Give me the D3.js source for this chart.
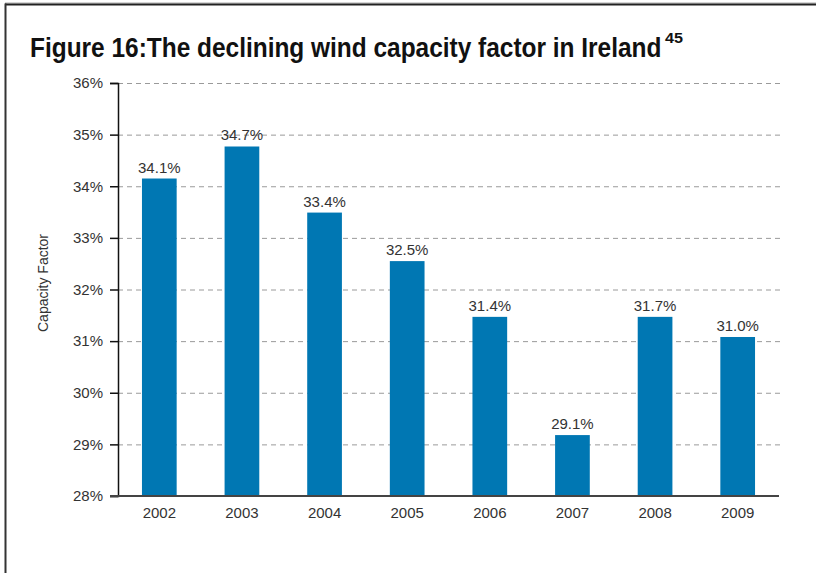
<!DOCTYPE html>
<html>
<head>
<meta charset="utf-8">
<script src="https://cdn.jsdelivr.net/npm/d3@7"></script>
<style>
  html, body { margin: 0; padding: 0; background: #fff; }
  svg { display: block; }
</style>
</head>
<body>
<svg id="chart" width="816" height="573"></svg>
<script>
// ---- data ----
const years = ["2002", "2003", "2004", "2005", "2006", "2007", "2008", "2009"];
const capacityFactor = [34.15, 34.77, 33.49, 32.55, 31.47, 29.18, 31.47, 31.08];
const valueLabels = ["34.1%", "34.7%", "33.4%", "32.5%", "31.4%", "29.1%", "31.7%", "31.0%"];
const yTicks = [28, 29, 30, 31, 32, 33, 34, 35, 36];
const titleText = "Figure 16:The declining wind capacity factor in Ireland";
const titleSup = "45";
const yAxisTitle = "Capacity Factor";

(function () {
const svg = d3.select("#chart");
const W = 816, H = 573;
const pLeft = 118, pRight = 779, pTop = 83, pBottom = 496;

// frame
svg.append("line").attr("x1", 5).attr("x2", W).attr("y1", 3).attr("y2", 3)
  .attr("stroke", "#aaa").attr("stroke-width", 1);
svg.append("line").attr("x1", 5).attr("x2", W).attr("y1", 4.5).attr("y2", 4.5)
  .attr("stroke", "#222").attr("stroke-width", 2);
svg.append("line").attr("x1", 5.5).attr("x2", 5.5).attr("y1", 3.5).attr("y2", H)
  .attr("stroke", "#333").attr("stroke-width", 2);

// title (condensed bold look via horizontal scaling)
const titleFont = "'Liberation Sans', Arial, sans-serif";
const titleWidth = 632;
const tg = svg.append("g");
const t = tg.append("text")
  .attr("x", 0).attr("y", 0)
  .attr("font-family", titleFont)
  .attr("font-weight", "bold")
  .attr("font-size", 28)
  .attr("fill", "#111")
  .text(titleText);
const natural = t.node().getComputedTextLength();
tg.attr("transform", `translate(30,57) scale(${titleWidth / natural},1)`);

const sg = svg.append("g");
const s = sg.append("text")
  .attr("x", 0).attr("y", 0)
  .attr("font-family", titleFont)
  .attr("font-weight", "bold")
  .attr("font-size", 14)
  .attr("fill", "#111")
  .text(titleSup);
const sNat = s.node().getComputedTextLength();
sg.attr("transform", `translate(${30 + titleWidth + 3},43) scale(${18 / sNat},1)`);

const x = d3.scaleBand().domain(years).range([pLeft, pRight])
  .paddingInner(0.58).paddingOuter(0.29);
const y = d3.scaleLinear().domain([28, 36]).range([pBottom, pTop]);

const font = "'Liberation Sans', Arial, sans-serif";
const textColor = "#333";

// gridlines
svg.append("g").selectAll("line").data(yTicks.filter(d => d > 28)).join("line")
  .attr("x1", pLeft).attr("x2", pRight + 4)
  .attr("y1", d => y(d) + 0.5).attr("y2", d => y(d) + 0.5)
  .attr("stroke", "#9a9a9a").attr("stroke-width", 1)
  .attr("stroke-dasharray", "5,4");

// bars
svg.append("g").selectAll("rect").data(years).join("rect")
  .attr("x", d => x(d))
  .attr("width", x.bandwidth())
  .attr("y", (d, i) => y(capacityFactor[i]))
  .attr("height", (d, i) => y(28) - y(capacityFactor[i]))
  .attr("fill", "#0077b3");

// value labels
svg.append("g").selectAll("text").data(years).join("text")
  .attr("x", d => x(d) + x.bandwidth() / 2)
  .attr("y", (d, i) => y(capacityFactor[i]) - 6)
  .attr("text-anchor", "middle")
  .attr("font-family", font).attr("font-size", 15)
  .attr("fill", textColor)
  .text((d, i) => valueLabels[i]);

// y axis
const yAxis = d3.axisLeft(y).tickValues(yTicks)
  .tickFormat(d => d + "%").tickSize(8).tickPadding(7);
const gy = svg.append("g").attr("transform", `translate(${pLeft},0)`).call(yAxis);
gy.select(".domain").attr("stroke", "#111").attr("stroke-width", 1.5);
gy.selectAll(".tick line").attr("stroke", "#111").attr("stroke-width", 1.5);
gy.selectAll(".tick text").attr("font-family", font).attr("font-size", 15).attr("fill", textColor);

// x axis
const xAxis = d3.axisBottom(x).tickSize(0).tickPadding(11);
const gx = svg.append("g").attr("transform", `translate(0,${pBottom})`).call(xAxis);
gx.select(".domain").attr("stroke", "#444").attr("stroke-width", 2)
  .attr("d", `M${pLeft - 8},0H${pRight}`);
gx.selectAll(".tick text").attr("font-family", font).attr("font-size", 15).attr("fill", textColor);

// y axis title
svg.append("text")
  .attr("transform", `translate(48,283) rotate(-90)`)
  .attr("text-anchor", "middle")
  .attr("font-family", font).attr("font-size", 14)
  .attr("fill", textColor)
  .text(yAxisTitle);
})();
</script>
</body>
</html>
